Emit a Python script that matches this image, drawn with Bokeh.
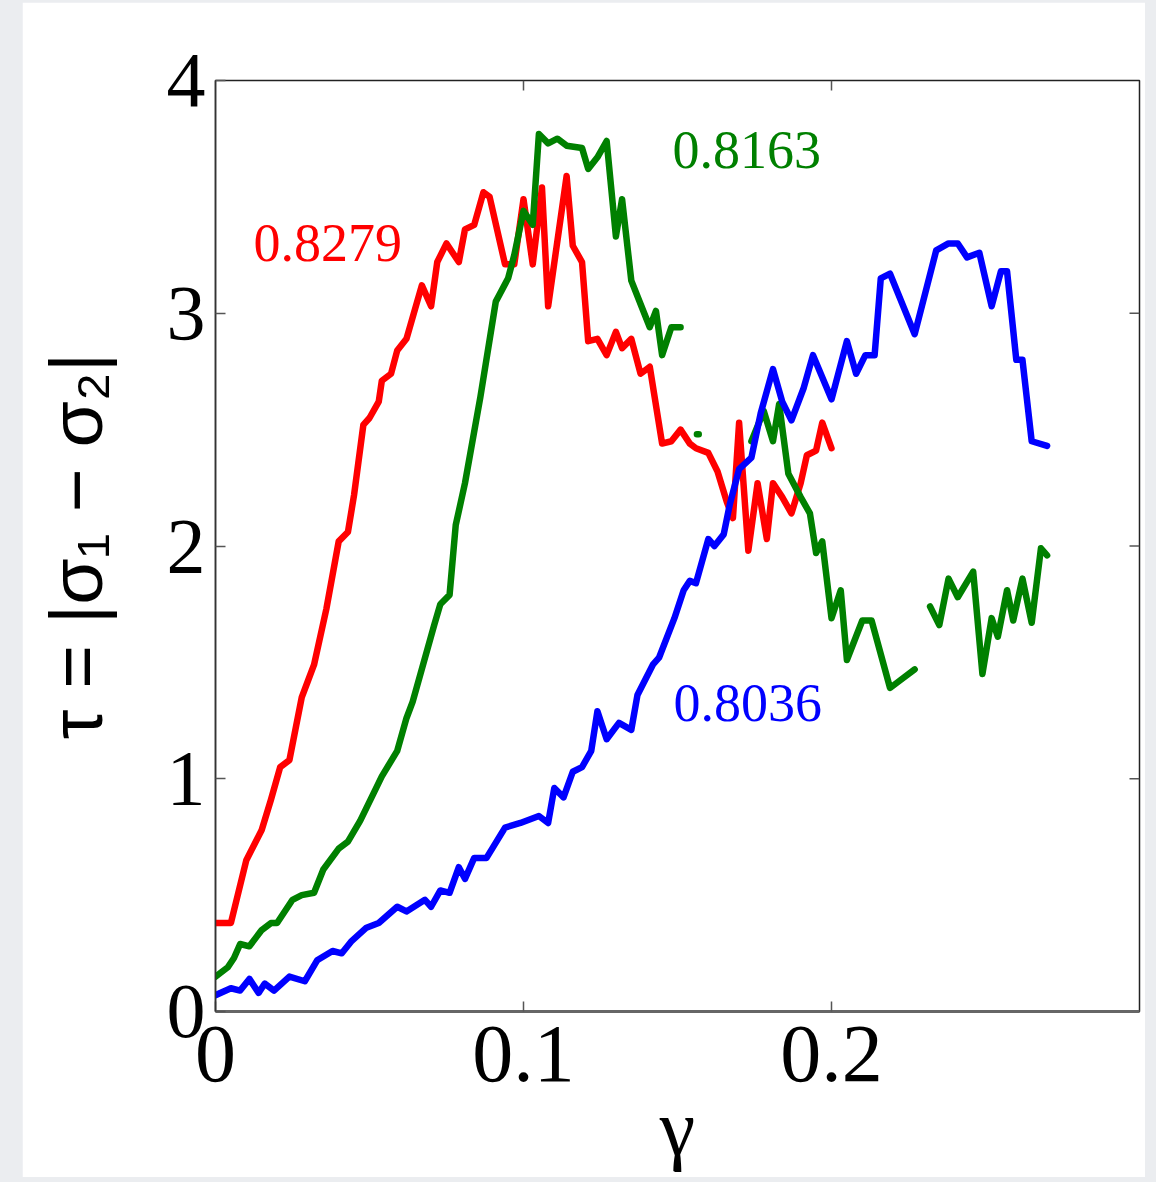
import math
from bokeh.plotting import figure
from bokeh.models import FixedTicker, LinearAxis, ColumnDataSource, Range1d
from bokeh.layouts import column
from bokeh.embed import file_html
from bokeh.resources import INLINE
from bokeh.core.properties import value

nan = float("nan")

# --- data (gamma, tau) ---
red_gamma = [0.000, 0.005, 0.010, 0.015, 0.018, 0.021, 0.024, 0.028, 0.030, 0.032,
             0.036, 0.040, 0.043, 0.045, 0.048, 0.050, 0.053, 0.054, 0.057, 0.059,
             0.062, 0.067, 0.070, 0.072, 0.075, 0.079, 0.081, 0.084, 0.087, 0.089,
             0.094, 0.097, 0.100, 0.103, 0.106, 0.108, 0.114, 0.116, 0.119, 0.121,
             0.124, 0.127, 0.130, 0.132, 0.135, 0.138, 0.141, 0.145, 0.148, 0.151,
             0.154, 0.156, 0.160, 0.163, 0.166, 0.168, 0.170, 0.173, 0.176, 0.179,
             0.181, 0.184, 0.187, 0.190, 0.192, 0.195, 0.197, 0.200]
red_tau = [0.38, 0.38, 0.65, 0.78, 0.91, 1.05, 1.08, 1.35, 1.42, 1.49,
           1.73, 2.02, 2.06, 2.22, 2.52, 2.55, 2.62, 2.71, 2.74, 2.84,
           2.89, 3.12, 3.03, 3.22, 3.30, 3.22, 3.36, 3.38, 3.52, 3.50,
           3.21, 3.21, 3.49, 3.21, 3.54, 3.03, 3.59, 3.29, 3.22, 2.88,
           2.89, 2.82, 2.92, 2.85, 2.89, 2.74, 2.77, 2.44, 2.45, 2.50,
           2.44, 2.42, 2.40, 2.32, 2.19, 2.12, 2.53, 1.98, 2.27, 2.03,
           2.27, 2.21, 2.14, 2.27, 2.39, 2.41, 2.53, 2.42]

green_gamma = [0.000, 0.004, 0.006, 0.008, 0.011, 0.015, 0.018, 0.020, 0.025, 0.028,
               0.032, 0.035, 0.040, 0.043, 0.047, 0.054, 0.059, 0.062, 0.064, 0.071,
               0.073, 0.076, 0.078, 0.081, 0.086, 0.091, 0.095, 0.097, 0.100, 0.103,
               0.105, 0.108, 0.111, 0.114, 0.119, 0.121, 0.124, 0.127, 0.130, 0.132,
               0.135, 0.138, 0.141, 0.143, 0.145, 0.148, 0.151, nan,
               0.1563, 0.1569, nan,
               0.174, 0.178, 0.181, 0.183, 0.186, 0.190, 0.193, 0.195, 0.197, 0.200,
               0.203, 0.205, 0.210, 0.213, 0.219, 0.222, 0.227, nan,
               0.232, 0.235, 0.238, 0.241, 0.246, 0.249, 0.252, 0.254, 0.257, 0.259,
               0.262, 0.265, 0.268, 0.270]
green_tau = [0.15, 0.19, 0.23, 0.29, 0.28, 0.35, 0.38, 0.38, 0.48, 0.50,
             0.51, 0.61, 0.70, 0.73, 0.82, 1.01, 1.12, 1.26, 1.33, 1.66,
             1.75, 1.79, 2.09, 2.27, 2.64, 3.05, 3.15, 3.25, 3.44, 3.38,
             3.77, 3.73, 3.75, 3.72, 3.71, 3.62, 3.67, 3.74, 3.33, 3.49,
             3.14, 3.04, 2.94, 3.01, 2.82, 2.94, 2.94, nan,
             2.48, 2.48, nan,
             2.45, 2.58, 2.45, 2.61, 2.31, 2.21, 2.14, 1.97, 2.02, 1.69,
             1.81, 1.51, 1.68, 1.68, 1.39, 1.42, 1.47, nan,
             1.74, 1.66, 1.86, 1.78, 1.89, 1.45, 1.69, 1.61, 1.81, 1.68,
             1.86, 1.67, 1.99, 1.96]

blue_gamma = [0.000, 0.005, 0.008, 0.011, 0.014, 0.016, 0.019, 0.024, 0.029, 0.033,
              0.038, 0.041, 0.044, 0.049, 0.053, 0.059, 0.062, 0.068, 0.070, 0.073,
              0.076, 0.079, 0.081, 0.084, 0.088, 0.094, 0.099, 0.105, 0.108, 0.110,
              0.113, 0.116, 0.119, 0.122, 0.124, 0.127, 0.131, 0.135, 0.137, 0.142,
              0.144, 0.149, 0.152, 0.154, 0.156, 0.160, 0.162, 0.165, 0.167, 0.170,
              0.174, 0.177, 0.181, 0.184, 0.187, 0.191, 0.194, 0.200, 0.205, 0.208,
              0.211, 0.214, 0.216, 0.219, 0.227, 0.234, 0.238, 0.241, 0.244, 0.248,
              0.252, 0.255, 0.257, 0.260, 0.262, 0.265, 0.270]
blue_tau = [0.07, 0.10, 0.09, 0.14, 0.08, 0.12, 0.09, 0.15, 0.13, 0.22,
            0.26, 0.25, 0.30, 0.36, 0.38, 0.45, 0.43, 0.48, 0.45, 0.52,
            0.51, 0.62, 0.57, 0.66, 0.66, 0.79, 0.81, 0.84, 0.81, 0.96,
            0.92, 1.03, 1.05, 1.12, 1.29, 1.17, 1.24, 1.21, 1.36, 1.49,
            1.52, 1.69, 1.81, 1.85, 1.84, 2.03, 2.00, 2.05, 2.18, 2.33,
            2.38, 2.57, 2.76, 2.62, 2.54, 2.68, 2.82, 2.63, 2.88, 2.74,
            2.82, 2.82, 3.15, 3.17, 2.91, 3.27, 3.30, 3.30, 3.24, 3.26,
            3.03, 3.18, 3.18, 2.80, 2.80, 2.45, 2.43]

label_text = ["0.8279", "0.8163", "0.8036"]
label_gamma = [0.0123, 0.1484, 0.1487]
label_tau = [3.300, 3.703, 1.325]
label_color = ["#ff0000", "#008000", "#0000ff"]

x_ticks = [0, 0.1, 0.2]
x_tick_labels = ["0", "0.1", "0.2"]
y_ticks = [0, 1, 2, 3, 4]
y_tick_labels = ["0", "1", "2", "3", "4"]
x_title = "γ"
y_title = "τ = |σ₁ − σ₂|"
X_MAX, Y_MAX = 0.3, 4

SERIF = "Liberation Serif"
SANS = "Liberation Sans"
TICK_COLOR = "#555555"

p = figure(width=1123, height=1175, x_range=Range1d(0, X_MAX), y_range=Range1d(0, Y_MAX),
           x_axis_type=None, y_axis_type=None,
           output_backend="svg", toolbar_location=None,
           min_border_left=193, min_border_right=6, min_border_top=78, min_border_bottom=166)
p.margin = (2, 11, 5, 22)
p.background_fill_color = "white"
p.border_fill_color = "white"
p.outline_line_color = "#222222"
p.outline_line_width = 1.5


def style_axis(ax):
    ax.major_tick_in = 10
    ax.major_tick_out = 0
    ax.minor_tick_in = 0
    ax.minor_tick_out = 0
    ax.major_tick_line_color = TICK_COLOR
    ax.major_tick_line_width = 1.5
    ax.axis_line_color = "#333333"
    ax.axis_line_width = 1.5


bottom = LinearAxis(ticker=FixedTicker(ticks=x_ticks),
                    major_label_overrides=dict(zip(x_ticks, x_tick_labels)))
style_axis(bottom)
bottom.axis_line_width = 3
bottom.axis_line_color = "#666666"
bottom.major_label_text_font = SERIF
bottom.major_label_text_font_size = "82px"
bottom.major_label_text_color = "black"
bottom.major_label_standoff = 15
bottom.axis_label = x_title
bottom.axis_label_text_font = SERIF
bottom.axis_label_text_font_size = "80px"
bottom.axis_label_text_font_style = "normal"
bottom.axis_label_text_color = "black"
bottom.axis_label_standoff = 0
p.add_layout(bottom, "below")

left = LinearAxis(ticker=FixedTicker(ticks=y_ticks),
                  major_label_overrides=dict(zip(y_ticks, y_tick_labels)))
style_axis(left)
left.major_label_text_font = SERIF
left.major_label_text_font_size = "78px"
left.major_label_text_color = "black"
left.major_label_standoff = 10
left.axis_label = y_title
left.axis_label_text_font = SANS
left.axis_label_text_font_size = "75px"
left.axis_label_text_font_style = "normal"
left.axis_label_text_color = "black"
left.axis_label_standoff = 46
p.add_layout(left, "left")

# inward ticks on the top and right frame edges (mirror of the labelled axes)
top_ticks = x_ticks[1:]
right_ticks = y_ticks[1:-1]
p.ray(x=top_ticks, y=[Y_MAX] * len(top_ticks), length=10, length_units="screen",
      angle=-math.pi / 2, line_color=TICK_COLOR, line_width=1.5)
p.ray(x=[X_MAX] * len(right_ticks), y=right_ticks, length=10, length_units="screen",
      angle=math.pi, line_color=TICK_COLOR, line_width=1.5)

LW = 6.5
p.line(red_gamma, red_tau, line_color="#ff0000", line_width=LW, line_join="round", line_cap="round")
p.line(green_gamma, green_tau, line_color="#008000", line_width=LW, line_join="round", line_cap="round")
p.line(blue_gamma, blue_tau, line_color="#0000ff", line_width=LW, line_join="round", line_cap="round")

src = ColumnDataSource(dict(x=label_gamma, y=label_tau, t=label_text, c=label_color))
p.text(x="x", y="y", text="t", text_color="c", source=src,
       text_font=value(SERIF), text_font_size="54px",
       text_align="left", text_baseline="alphabetic")

layout = column(p, styles={"background-color": "#ebedf0"})

open("out.html", "w").write(file_html(layout, INLINE))
